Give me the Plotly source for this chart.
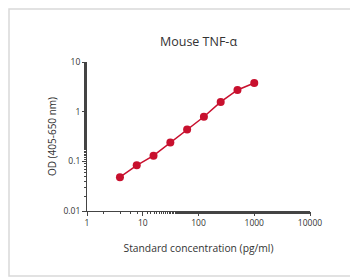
import plotly.graph_objects as go

concentration = [3.9, 7.8, 15.6, 31.25, 62.5, 125, 250, 500, 1000]
od_values = [0.048, 0.083, 0.13, 0.24, 0.44, 0.79, 1.57, 2.73, 3.78]
x_tick_vals = [1, 10, 100, 1000, 10000]
x_tick_text = ["1", "10", "100", "1000", "10000"]
y_tick_vals = [0.01, 0.1, 1, 10]
y_tick_text = ["0.01", "0.1", "1", "10"]

red = "#c8102e"
axis_col = "#444444"
txt = "#333333"
font = "Open Sans"

W, H = 350, 272
L, R, T, B = 79, 48, 54, 69
PW, PH = W - L - R, H - T - B

fig = go.Figure()
fig.add_trace(go.Scatter(
    x=concentration, y=od_values, mode="lines+markers",
    line=dict(color=red, width=1.5),
    marker=dict(color=red, size=8),
    showlegend=False,
))

fig.update_layout(
    width=W, height=H,
    margin=dict(l=L, r=R, t=T, b=B),
    paper_bgcolor="white", plot_bgcolor="white",
    font=dict(family=font, color=txt),
    title=dict(text="Mouse TNF-α", x=0.5, xref="paper", xanchor="center",
               y=1 - 34 / H, yanchor="middle",
               font=dict(size=12.5, color=txt, family=font)),
    shapes=[dict(type="rect", xref="paper", yref="paper",
                 x0=-(L - 1) / PW, x1=1 + (R - 2) / PW,
                 y0=-(B - 4) / PH, y1=1 + (T - 1) / PH,
                 line=dict(color="#d9d9d9", width=1.5), fillcolor="rgba(0,0,0,0)",
                 layer="below")],
)

fig.update_xaxes(
    type="log", range=[0, 4], showgrid=False, zeroline=False,
    showline=True, linecolor=axis_col, linewidth=1,
    ticks="outside", ticklen=4, tickcolor=axis_col, tickwidth=1,
    tickvals=x_tick_vals, ticktext=x_tick_text,
    tickfont=dict(size=8.5, color=txt, family=font),
    minor=dict(ticks="outside", ticklen=2, tickcolor=axis_col, showgrid=False),
    title=dict(text="Standard concentration (pg/ml)", standoff=17,
               font=dict(size=10.3, color=txt, family=font)),
)
fig.update_yaxes(
    type="log", range=[-2, 1], showgrid=False, zeroline=False,
    showline=True, linecolor=axis_col, linewidth=1,
    ticks="outside", ticklen=4, tickcolor=axis_col, tickwidth=1,
    tickvals=y_tick_vals, ticktext=y_tick_text,
    tickfont=dict(size=8.5, color=txt, family=font),
    minor=dict(ticks="outside", ticklen=2, tickcolor=axis_col, showgrid=False),
    title=dict(text="OD (405-650 nm)", standoff=4,
               font=dict(size=10, color=txt, family=font)),
)

fig.write_html("out.html")
